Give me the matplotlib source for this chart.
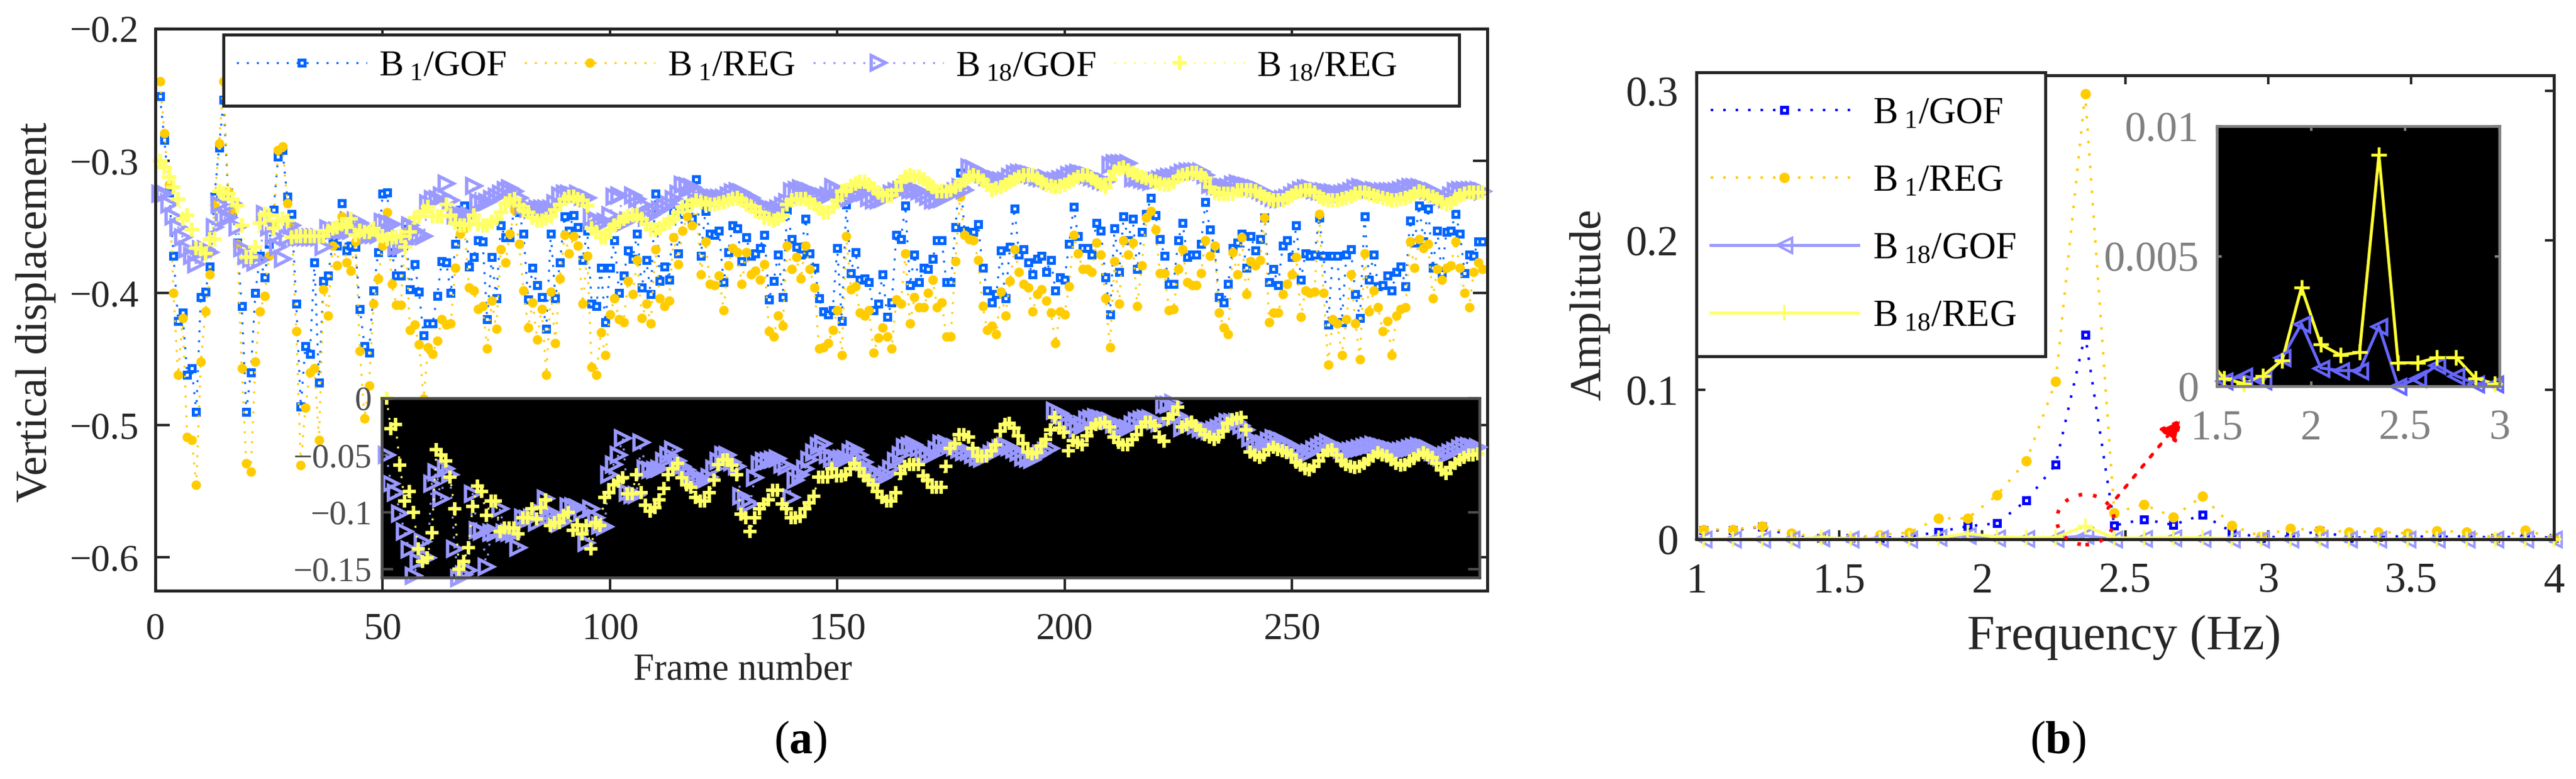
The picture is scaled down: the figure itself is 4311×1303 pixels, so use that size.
import numpy as np
import matplotlib
matplotlib.use('Agg')
import matplotlib.pyplot as plt
from matplotlib.patches import Ellipse, Rectangle

plt.rcParams['font.family'] = ['Liberation Serif', 'DejaVu Serif']
plt.rcParams['mathtext.fontset'] = 'custom'
plt.rcParams['mathtext.rm'] = 'Liberation Serif'
plt.rcParams['mathtext.it'] = 'Liberation Serif:italic'
plt.rcParams['mathtext.bf'] = 'Liberation Serif:bold'

W, H = 4311, 1303

# panel (a), one value per frame starting at frame 1
b1_gof = [-.251,-.284,-.324,-.372,-.421,-.415,-.462,-.457,-.49,-.403,
          -.399,-.38,-.327,-.29,-.254,-.324,-.34,-.362,-.41,-.49,
          -.46,-.40,-.372,-.388,-.363,-.337,-.297,-.292,-.327,-.34,
          -.408,-.486,-.44,-.446,-.377,-.468,-.391,-.387,-.362,-.364,
          -.332,-.368,-.364,-.365,-.412,-.44,-.445,-.398,-.369,-.325,
          -.324,-.369,-.387,-.387,-.347,-.397,-.378,-.399,-.432,-.423,
          -.423,-.402,-.376,-.377,-.40,-.363,-.337,-.334,-.38,-.373,
          -.36,-.361,-.42,-.373,-.404,-.349,-.358,-.358,-.335,-.339,
          -.355,-.405,-.381,-.394,-.403,-.427,-.355,-.404,-.377,-.342,
          -.353,-.341,-.35,-.375,-.353,-.408,-.41,-.381,-.422,-.381,
          -.36,-.40,-.387,-.368,-.374,-.355,-.396,-.375,-.401,-.325,
          -.391,-.38,-.39,-.337,-.37,-.34,-.333,-.344,-.314,-.372,
          -.338,-.355,-.356,-.353,-.392,-.369,-.349,-.351,-.376,-.358,
          -.372,-.37,-.366,-.356,-.405,-.391,-.371,-.403,-.337,-.359,
          -.365,-.371,-.344,-.37,-.381,-.404,-.414,-.416,-.413,-.366,
          -.421,-.333,-.385,-.369,-.39,-.389,-.392,-.413,-.408,-.386,
          -.418,-.407,-.356,-.359,-.334,-.394,-.371,-.392,-.381,-.382,
          -.374,-.36,-.36,-.392,-.392,-.35,-.309,-.353,-.355,-.354,
          -.348,-.381,-.398,-.407,-.401,-.368,-.404,-.365,-.336,-.371,
          -.367,-.377,-.386,-.374,-.372,-.384,-.375,-.398,-.388,-.39,
          -.363,-.335,-.357,-.366,-.366,-.371,-.347,-.353,-.388,-.416,
          -.351,-.384,-.342,-.36,-.344,-.382,-.354,-.34,-.328,-.341,
          -.359,-.372,-.393,-.393,-.36,-.347,-.373,-.371,-.371,-.363,
          -.331,-.352,-.366,-.403,-.407,-.393,-.366,-.362,-.355,-.381,
          -.357,-.368,-.359,-.343,-.392,-.382,-.394,-.364,-.36,-.373,
          -.349,-.39,-.37,-.372,-.371,-.343,-.372,-.424,-.372,-.372,
          -.422,-.371,-.367,-.401,-.419,-.342,-.39,-.371,-.395,-.394,
          -.387,-.398,-.384,-.38,-.395,-.345,-.362,-.334,-.361,-.336,
          -.381,-.353,-.385,-.354,-.353,-.34,-.355,-.385,-.371,-.372,
          -.361,-.361]
b1_reg = [-.24,-.279,-.318,-.40,-.462,-.419,-.509,-.511,-.545,-.452,
          -.414,-.386,-.333,-.287,-.24,-.323,-.339,-.363,-.457,-.529,
          -.535,-.452,-.414,-.402,-.372,-.348,-.292,-.289,-.332,-.35,
          -.429,-.53,-.487,-.46,-.457,-.511,-.397,-.417,-.364,-.379,
          -.342,-.377,-.383,-.361,-.444,-.495,-.47,-.408,-.389,-.364,
          -.339,-.393,-.409,-.409,-.354,-.428,-.424,-.439,-.48,-.441,
          -.446,-.436,-.42,-.424,-.423,-.381,-.355,-.351,-.396,-.398,
          -.412,-.41,-.442,-.406,-.427,-.367,-.377,-.355,-.337,-.363,
          -.398,-.426,-.407,-.435,-.412,-.462,-.399,-.438,-.389,-.356,
          -.37,-.357,-.364,-.408,-.372,-.456,-.462,-.43,-.447,-.416,
          -.404,-.42,-.422,-.391,-.401,-.375,-.419,-.408,-.423,-.367,
          -.404,-.41,-.406,-.358,-.378,-.353,-.342,-.349,-.329,-.386,
          -.361,-.393,-.394,-.387,-.413,-.379,-.366,-.369,-.393,-.369,
          -.386,-.383,-.39,-.378,-.429,-.433,-.417,-.425,-.364,-.382,
          -.373,-.389,-.364,-.382,-.396,-.442,-.441,-.438,-.428,-.413,
          -.447,-.357,-.397,-.395,-.415,-.417,-.413,-.445,-.434,-.426,
          -.433,-.442,-.405,-.408,-.37,-.423,-.403,-.411,-.411,-.40,
          -.39,-.411,-.407,-.433,-.433,-.376,-.327,-.356,-.359,-.36,
          -.375,-.41,-.428,-.425,-.431,-.399,-.417,-.391,-.367,-.384,
          -.393,-.396,-.414,-.401,-.397,-.406,-.415,-.438,-.414,-.416,
          -.395,-.356,-.37,-.382,-.382,-.384,-.362,-.371,-.404,-.441,
          -.376,-.408,-.36,-.371,-.362,-.41,-.379,-.343,-.338,-.352,
          -.385,-.385,-.413,-.412,-.382,-.367,-.392,-.394,-.394,-.385,
          -.36,-.372,-.364,-.415,-.426,-.431,-.369,-.386,-.358,-.401,
          -.376,-.379,-.375,-.343,-.422,-.415,-.415,-.401,-.393,-.386,
          -.373,-.418,-.398,-.40,-.399,-.34,-.40,-.454,-.42,-.423,
          -.447,-.42,-.386,-.423,-.45,-.37,-.414,-.398,-.411,-.429,
          -.421,-.447,-.417,-.412,-.411,-.361,-.381,-.359,-.366,-.363,
          -.404,-.382,-.39,-.381,-.379,-.361,-.381,-.40,-.411,-.384,
          -.377,-.382]
b18_gof = [-.325,-.325,-.333,-.342,-.35,-.358,-.367,-.372,-.378,-.367,
           -.367,-.369,-.35,-.333,-.343,-.343,-.332,-.35,-.366,-.372,
           -.374,-.377,-.375,-.34,-.35,-.357,-.365,-.374,-.358,-.349,
           -.358,-.358,-.358,-.358,-.358,-.358,-.365,-.351,-.353,-.353,
           -.353,-.353,-.353,-.345,-.347,-.35,-.356,-.356,-.356,-.346,
           -.347,-.348,-.365,-.365,-.363,-.349,-.353,-.356,-.357,-.332,
           -.329,-.329,-.326,-.317,-.33,-.341,-.341,-.341,-.341,-.319,
           -.331,-.332,-.331,-.329,-.327,-.325,-.322,-.321,-.323,-.328,
           -.334,-.336,-.337,-.336,-.336,-.336,-.336,-.332,-.326,-.325,
           -.325,-.326,-.325,-.327,-.328,-.343,-.345,-.347,-.346,-.341,
           -.327,-.326,-.347,-.345,-.326,-.329,-.333,-.343,-.341,-.339,
           -.337,-.335,-.333,-.329,-.325,-.318,-.319,-.32,-.322,-.325,
           -.327,-.328,-.328,-.328,-.328,-.326,-.324,-.323,-.324,-.326,
           -.328,-.331,-.333,-.335,-.336,-.337,-.336,-.334,-.331,-.323,
           -.322,-.321,-.322,-.323,-.325,-.326,-.327,-.326,-.32,-.322,
           -.325,-.329,-.328,-.326,-.325,-.324,-.328,-.33,-.33,-.329,
           -.327,-.325,-.323,-.322,-.321,-.322,-.322,-.323,-.325,-.327,
           -.33,-.33,-.329,-.327,-.325,-.323,-.32,-.322,-.305,-.306,
           -.308,-.31,-.312,-.313,-.314,-.315,-.315,-.312,-.31,-.309,
           -.309,-.31,-.311,-.312,-.313,-.313,-.315,-.315,-.314,-.313,
           -.311,-.31,-.309,-.31,-.311,-.312,-.313,-.315,-.316,-.303,
           -.302,-.302,-.302,-.302,-.313,-.313,-.314,-.315,-.316,-.315,
           -.314,-.313,-.312,-.312,-.311,-.309,-.308,-.308,-.308,-.308,
           -.311,-.318,-.319,-.319,-.32,-.32,-.318,-.317,-.318,-.319,
           -.32,-.321,-.322,-.324,-.326,-.328,-.329,-.329,-.328,-.326,
           -.324,-.322,-.321,-.321,-.322,-.323,-.323,-.324,-.324,-.325,
           -.325,-.324,-.323,-.321,-.32,-.321,-.322,-.322,-.323,-.323,
           -.323,-.323,-.323,-.322,-.321,-.32,-.32,-.32,-.321,-.322,
           -.323,-.325,-.327,-.329,-.326,-.323,-.322,-.322,-.322,-.322,
           -.322,-.323]
b18_reg = [-.30,-.305,-.312,-.32,-.329,-.344,-.341,-.352,-.366,-.367,
           -.37,-.359,-.359,-.323,-.325,-.325,-.329,-.334,-.349,-.373,
           -.373,-.365,-.347,-.34,-.341,-.351,-.345,-.344,-.345,-.358,
           -.357,-.357,-.357,-.357,-.357,-.357,-.357,-.353,-.351,-.35,
           -.348,-.35,-.344,-.356,-.353,-.354,-.354,-.351,-.356,-.357,
           -.359,-.358,-.358,-.357,-.365,-.354,-.343,-.342,-.338,-.335,
           -.342,-.342,-.342,-.333,-.341,-.347,-.349,-.349,-.348,-.341,
           -.348,-.349,-.349,-.346,-.344,-.339,-.332,-.33,-.329,-.334,
           -.337,-.339,-.343,-.345,-.345,-.344,-.342,-.337,-.333,-.329,
           -.327,-.327,-.329,-.33,-.334,-.351,-.354,-.358,-.358,-.352,
           -.349,-.346,-.344,-.342,-.341,-.341,-.344,-.348,-.352,-.352,
           -.351,-.348,-.346,-.344,-.339,-.335,-.334,-.333,-.33,-.331,
           -.332,-.333,-.333,-.332,-.331,-.33,-.329,-.328,-.33,-.333,
           -.335,-.338,-.339,-.343,-.344,-.345,-.344,-.341,-.333,-.33,
           -.329,-.329,-.329,-.331,-.333,-.336,-.339,-.339,-.335,-.33,
           -.323,-.322,-.319,-.317,-.316,-.316,-.318,-.321,-.324,-.326,
           -.326,-.326,-.322,-.316,-.312,-.311,-.312,-.312,-.314,-.317,
           -.32,-.323,-.323,-.323,-.322,-.32,-.318,-.315,-.312,-.311,
           -.312,-.315,-.318,-.322,-.321,-.32,-.318,-.316,-.314,-.312,
           -.311,-.311,-.311,-.313,-.316,-.318,-.319,-.32,-.319,-.318,
           -.316,-.314,-.312,-.311,-.311,-.313,-.316,-.318,-.32,-.314,
           -.308,-.306,-.305,-.307,-.309,-.311,-.312,-.313,-.315,-.316,
           -.317,-.318,-.318,-.316,-.312,-.311,-.31,-.309,-.309,-.311,
           -.313,-.32,-.324,-.325,-.325,-.325,-.325,-.322,-.322,-.322,
           -.322,-.323,-.325,-.327,-.329,-.33,-.33,-.33,-.328,-.326,
           -.324,-.323,-.322,-.322,-.324,-.327,-.329,-.33,-.33,-.33,
           -.329,-.328,-.327,-.325,-.324,-.324,-.325,-.326,-.327,-.328,
           -.329,-.33,-.33,-.329,-.328,-.327,-.325,-.323,-.324,-.326,
           -.327,-.329,-.331,-.333,-.332,-.329,-.326,-.325,-.324,-.324,
           -.324,-.324]

# inset of panel (a), one value per frame starting at frame 51
inset_gof = [-.05,-.075,-.083,-.101,-.117,-.133,-.156,-.143,-.126,-.14,
             -.075,-.065,-.088,-.062,-.067,-.132,-.158,-.155,-.151,-.084,
             -.116,-.117,-.148,-.118,-.118,-.097,-.118,-.118,-.119,-.131,
             -.105,-.106,-.105,-.109,-.10,-.088,-.10,-.105,-.11,-.108,
             -.095,-.095,-.096,-.10,-.127,-.097,-.105,-.112,-.113,-.067,
             -.058,-.05,-.035,-.083,-.085,-.085,-.039,-.062,-.063,-.063,
             -.062,-.055,-.05,-.045,-.055,-.06,-.063,-.067,-.072,-.072,
             -.072,-.069,-.062,-.055,-.05,-.05,-.056,-.06,-.086,-.09,
             -.093,-.07,-.058,-.055,-.055,-.054,-.053,-.058,-.06,-.087,
             -.072,-.067,-.062,-.054,-.048,-.042,-.04,-.05,-.053,-.053,
             -.053,-.053,-.048,-.045,-.05,-.056,-.062,-.065,-.068,-.07,
             -.067,-.062,-.055,-.05,-.043,-.042,-.041,-.044,-.048,-.051,
             -.05,-.045,-.04,-.04,-.042,-.043,-.045,-.047,-.047,
             -.05,-.052,-.053,-.051,-.049,-.046,-.044,-.042,-.043,-.045,
             -.048,-.052,-.053,-.054,-.051,-.049,-.046,-.044,-.011,-.013,
             -.016,-.02,-.024,-.027,-.023,-.019,-.018,-.017,-.018,-.019,
             -.02,-.023,-.025,-.025,-.026,-.023,-.02,-.019,-.018,-.018,
             -.02,-.022,-.006,-.006,-.004,-.015,-.026,-.022,-.022,-.024,
             -.027,-.028,-.029,-.028,-.026,-.024,-.021,-.021,-.021,-.024,
             -.028,-.035,-.04,-.04,-.04,-.037,-.035,-.036,-.038,-.04,
             -.042,-.045,-.048,-.05,-.048,-.045,-.043,-.041,-.039,-.042,
             -.043,-.045,-.046,-.046,-.045,-.044,-.043,-.042,-.041,-.042,
             -.043,-.044,-.045,-.046,-.046,-.045,-.044,-.043,-.042,-.043,
             -.044,-.047,-.05,-.052,-.05,-.048,-.046,-.044,-.042,-.042,
             -.043,-.043]
inset_reg = [0.0,-.027,-.023,-.059,-.09,-.082,-.10,-.132,-.143,-.14,
             -.118,-.045,-.05,-.055,-.069,-.097,-.15,-.143,-.131,-.095,
             -.077,-.082,-.103,-.09,-.09,-.117,-.114,-.114,-.114,-.119,
             -.105,-.105,-.097,-.106,-.096,-.089,-.112,-.109,-.109,-.103,
             -.10,-.116,-.111,-.119,-.112,-.132,-.109,-.112,-.087,-.083,
             -.076,-.073,-.07,-.084,-.084,-.067,-.083,-.094,-.099,-.096,
             -.089,-.079,-.067,-.062,-.057,-.07,-.076,-.078,-.087,-.09,
             -.09,-.083,-.072,-.058,-.054,-.054,-.059,-.067,-.102,-.105,
             -.117,-.105,-.097,-.093,-.089,-.081,-.081,-.093,-.097,-.105,
             -.105,-.104,-.097,-.092,-.086,-.069,-.069,-.069,-.062,-.068,
             -.068,-.067,-.062,-.057,-.062,-.068,-.072,-.076,-.082,-.087,
             -.09,-.09,-.083,-.066,-.06,-.058,-.058,-.058,-.068,-.072,
             -.078,-.078,-.078,-.06,-.044,-.04,-.032,-.032,-.034,-.044,
             -.051,-.051,-.051,-.046,-.041,-.029,-.023,-.022,-.026,-.033,
             -.04,-.047,-.049,-.048,-.042,-.036,-.028,-.017,-.026,-.03,
             -.046,-.037,-.039,-.041,-.033,-.026,-.023,-.022,-.021,-.025,
             -.034,-.039,-.041,-.041,-.036,-.032,-.025,-.021,-.021,-.024,
             -.034,-.038,-.018,-.014,-.008,-.025,-.023,-.021,-.024,-.028,
             -.032,-.034,-.036,-.034,-.029,-.022,-.019,-.018,-.017,-.028,
             -.047,-.05,-.052,-.05,-.045,-.043,-.045,-.046,-.048,-.05,
             -.056,-.059,-.062,-.063,-.06,-.055,-.05,-.046,-.045,-.05,
             -.055,-.058,-.06,-.061,-.06,-.057,-.054,-.051,-.048,-.05,
             -.051,-.054,-.057,-.059,-.058,-.055,-.053,-.05,-.048,-.05,
             -.052,-.057,-.063,-.066,-.061,-.057,-.054,-.052,-.05,-.05,
             -.049]

frames_tick = [0, 50, 100, 150, 200, 250]
disp_tick = [-.6, -.5, -.4, -.3, -.2]
disp_label = ['\u22120.6', '\u22120.5', '\u22120.4', '\u22120.3', '\u22120.2']
inset_tick = [-.15, -.1, -.05, 0]
inset_label = ['\u22120.15', '\u22120.1', '\u22120.05', '0']

# panel (b)
freq = [1.026,1.128,1.231,1.333,1.436,1.539,1.642,1.744,1.847,1.949,
        2.052,2.155,2.257,2.360,2.462,2.565,2.668,2.770,2.873,2.975,
        3.078,3.181,3.283,3.386,3.488,3.591,3.694,3.796,3.899,4.0]
amp_b1_gof = [.006,.006,.0085,.002,.001,.001,.001,.0015,.005,.0087,
              .0107,.026,.05,.1367,.0092,.0134,.0096,.0164,.005,.001,
              .002,.0055,.001,.0015,.002,.0015,.002,.001,.002,.001]
amp_b1_reg = [.0066,.0066,.0087,.004,.001,.001,.003,.0045,.014,.014,
              .0296,.0525,.1056,.298,.0176,.0233,.015,.0288,.0092,.002,
              .0072,.006,.005,.005,.004,.0055,.005,.001,.006,.001]
amp_b18_gof = [.0002,.0002,.0002,.0002,.0009,.0002,.0004,.0002,.0011,.0024,
               .0007,.0006,.0006,.0023,.0,.0003,.0008,.0004,.0001,.0001,
               .0001,.0001,.0001,.0001,.0001,.0001,.0001,.0001,.0001,.0001]
amp_b18_reg = [.0002,.0002,.0002,.0002,.0012,.0003,.0001,.0004,.001,.0038,
               .0016,.0012,.0013,.0089,.0009,.0009,.0011,.0011,.0003,.0001,
               .0001,.0001,.0001,.0001,.0001,.0001,.0001,.0001,.0001,.0001]
freq_tick = [1, 1.5, 2, 2.5, 3, 3.5, 4]
freq_label = ['1', '1.5', '2', '2.5', '3', '3.5', '4']
amp_tick = [0, .1, .2, .3]
amp_label = ['0', '0.1', '0.2', '0.3']
zoom_x_tick = [1.5, 2, 2.5, 3]
zoom_x_label = ['1.5', '2', '2.5', '3']
zoom_y_tick = [0, .005, .01]
zoom_y_label = ['0', '0.005', '0.01']

names = ['B$_{\\ 1}$/GOF', 'B$_{\\ 1}$/REG', 'B$_{\\ 18}$/GOF', 'B$_{\\ 18}$/REG']
DOT = (0, (1, 4))
DARK = '#262626'


def box(l, t, r, b):
    return [l / W, 1 - b / H, (r - l) / W, (b - t) / H]


def frame_axis(vals, start=1):
    return np.arange(start, start + len(vals))


def legend_box(axis, l, t, r, b):
    # legend frame in figure pixels, sits just under the legend itself
    axis.add_patch(Rectangle((l / W, 1 - b / H), (r - l) / W, (b - t) / H, transform=fig.transFigure,
                             fc='white', ec=DARK, lw=3.6, clip_on=False, zorder=4.5))


fig = plt.figure(figsize=(W / 100, H / 100), dpi=100)

# ---- panel (a)
ax = fig.add_axes(box(260, 48, 2489, 988))
ax.plot(frame_axis(b1_gof), b1_gof, ls=DOT, lw=2.4, color='#0066FF', marker='s', ms=6.5, mew=3.6,
        mfc='white', mec='#0066FF', clip_on=False, label=names[0])
ax.plot(frame_axis(b1_reg), b1_reg, ls=DOT, lw=2.4, color='#FFCC00', marker='o', ms=11.5, mew=0,
        clip_on=False, label=names[1])
ax.plot(frame_axis(b18_gof), b18_gof, ls=DOT, lw=2.4, color='#9999FF', marker='>', ms=17, mew=4,
        mfc='none', mec='#9999FF', clip_on=False, label=names[2])
ax.plot(frame_axis(b18_reg), b18_reg, ls=DOT, lw=2.4, color='#FFFF66', marker='+', ms=17, mew=4.4,
        clip_on=False, label=names[3])
ax.set_xlim(0, 293)
ax.set_ylim(-.6252, -.2)
ax.set_xticks(frames_tick)
ax.set_xticklabels([str(v) for v in frames_tick])
ax.set_yticks(disp_tick)
ax.set_yticklabels(disp_label)
ax.tick_params(direction='in', top=True, right=True, length=17, width=3, color=DARK,
               labelcolor=DARK, labelsize=46)
ax.tick_params(axis='x', pad=26)
ax.tick_params(axis='y', pad=20)
for s in ax.spines.values():
    s.set_linewidth(3.6)
    s.set_color(DARK)
legend_box(ax, 374, 57.6, 2442, 176.6)
ax.legend(loc='upper left', bbox_to_anchor=(396 / W, 1 - 84 / H), bbox_transform=fig.transFigure,
          borderaxespad=0, ncol=4, fontsize=44, handlelength=3.57, handletextpad=.33, columnspacing=.5,
          numpoints=1, frameon=False, borderpad=0)

# inset of (a)
ins = fig.add_axes(box(639, 666, 2476, 966), facecolor='black')
ins.plot(frame_axis(inset_gof, 51), inset_gof, ls=DOT, lw=2.4, color='#9999FF', marker='>', ms=17, mew=4,
         mfc='none', mec='#9999FF', clip_on=False)
ins.plot(frame_axis(inset_reg, 51), inset_reg, ls=DOT, lw=2.4, color='#FFFF66', marker='+', ms=16, mew=4.2,
         clip_on=False)
ins.set_xlim(50, 291.4)
ins.set_ylim(-.1574, 0)
ins.set_xticks([])
ins.set_yticks(inset_tick)
ins.set_yticklabels(inset_label)
ins.tick_params(direction='in', right=True, length=14, width=3, color='#4D4D4D',
                labelcolor='#4D4D4D', labelsize=41, pad=12)
for s in ins.spines.values():
    s.set_linewidth(3.4)
    s.set_color('#4D4D4D')

# ---- panel (b)
bx = fig.add_axes(box(2839, 126, 4274, 902))
bx.plot(freq, amp_b1_gof, ls=DOT, lw=3, color='#0000FF', marker='s', ms=7, mew=3.6, mfc='white', mec='#0000FF',
        clip_on=False, label=names[0])
bx.plot(freq, amp_b1_reg, ls=DOT, lw=3, color='#FFCC00', marker='o', ms=12.5, mew=0, clip_on=False, label=names[1])
bx.plot(freq, amp_b18_gof, lw=3.6, color='#9999FF', marker='<', ms=18, mew=3, mfc='none', mec='#9999FF',
        clip_on=False, label=names[2])
bx.plot(freq, amp_b18_reg, lw=3.6, color='#FFFF66', marker='+', ms=19, mew=3, clip_on=False, label=names[3])
bx.add_patch(Ellipse((2.361, .0132), .2, .0336, fill=False, ec='red', lw=4.4, ls=(0, (1, 3)), clip_on=False, zorder=5))
bx.annotate('', xy=(2.70, .081), xytext=(2.44, .0208),
            arrowprops=dict(arrowstyle='-|>', color='red', lw=4, ls=(0, (1, 3)), mutation_scale=55, shrinkA=0, shrinkB=0))
bx.set_xlim(1, 4)
bx.set_ylim(0, .3104)
bx.set_xticks(freq_tick)
bx.set_xticklabels(freq_label)
bx.set_yticks(amp_tick)
bx.set_yticklabels(amp_label)
bx.tick_params(direction='in', top=True, right=True, length=11, width=3, color=DARK,
               labelcolor=DARK, labelsize=51)
bx.tick_params(axis='x', pad=28)
bx.tick_params(axis='y', pad=22)
for s in bx.spines.values():
    s.set_linewidth(3.6)
    s.set_color(DARK)
legend_box(bx, 2839, 121, 3423, 596)
bx.legend(loc='upper left', bbox_to_anchor=(2863 / W, 1 - 162 / H), bbox_transform=fig.transFigure,
          borderaxespad=0, ncol=1, fontsize=45, handlelength=3.95, handletextpad=.38, labelspacing=.88,
          numpoints=1, frameon=False, borderpad=0)

# inset of (b)
cx = fig.add_axes(box(3710, 211, 4183, 646), facecolor='black')
keep = [i for i, f in enumerate(freq) if 1.5 <= f <= 3]
cx.plot(freq, amp_b18_gof, lw=3.6, color='#6666FF')
cx.plot(freq, amp_b18_reg, lw=3.6, color='#FFFF33')
cx.plot([freq[i] for i in keep], [amp_b18_gof[i] for i in keep], ls='none', marker='<', ms=18, mew=3.4,
        mfc='none', mec='#6666FF', clip_on=False)
cx.plot([freq[i] for i in keep], [amp_b18_reg[i] for i in keep], ls='none', marker='+', ms=19, mew=3.4,
        color='#FFFF33', clip_on=False)
cx.set_xlim(1.5, 3)
cx.set_ylim(0, .01)
cx.set_xticks(zoom_x_tick)
cx.set_xticklabels(zoom_x_label)
cx.set_yticks(zoom_y_tick)
cx.set_yticklabels(zoom_y_label)
cx.tick_params(direction='in', top=True, right=True, length=6, width=3, color='#808080',
               labelcolor='#808080', labelsize=51)
cx.tick_params(axis='x', pad=28)
cx.tick_params(axis='y', pad=22)
for s in cx.spines.values():
    s.set_linewidth(3.4)
    s.set_color('#808080')

# axis titles and captions
fig.text(60 / W, 1 - 522 / H, 'Vertical displacement', rotation=90, ha='center', va='center', fontsize=53, color=DARK)
fig.text(1243 / W, 1 - 1122 / H, 'Frame number', ha='center', va='center', fontsize=45, color=DARK)
fig.text(2660 / W, 1 - 510 / H, 'Amplitude', rotation=90, ha='center', va='center', fontsize=54, color=DARK)
fig.text(3555 / W, 1 - 1066 / H, 'Frequency (Hz)', ha='center', va='center', fontsize=60, color=DARK)
fig.text(1340 / W, 1 - 1241 / H, '($\\mathbf{a}$)', ha='center', va='center', fontsize=56, color='black')
fig.text(3444 / W, 1 - 1241 / H, '($\\mathbf{b}$)', ha='center', va='center', fontsize=56, color='black')

fig.savefig('out.png', dpi=100)
